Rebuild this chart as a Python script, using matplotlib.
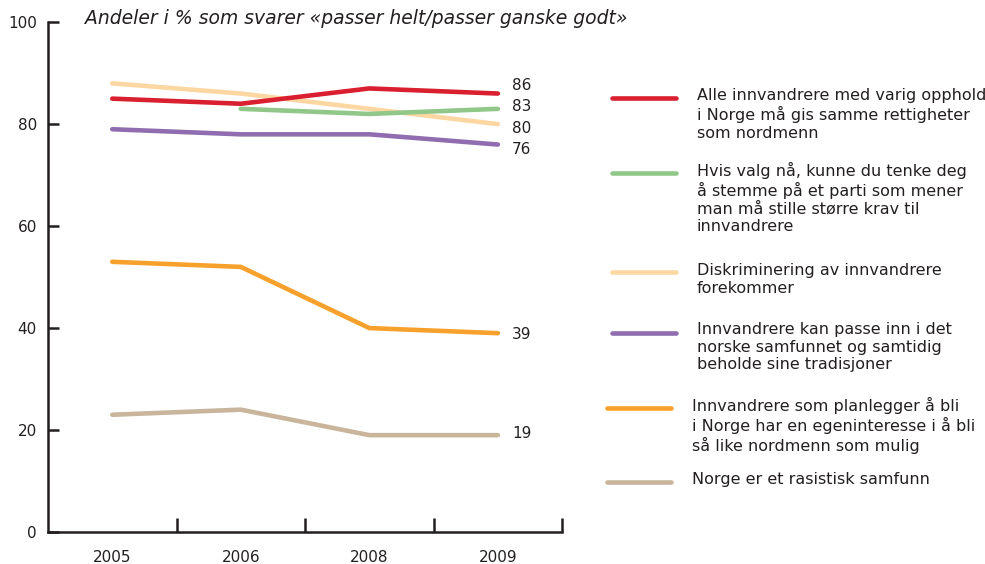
import matplotlib.pyplot as plt
import numpy as np
from matplotlib.lines import Line2D

# Data
years = ['2005', '2006', '2008', '2009']
alle_rettigheter = [85, 84, 87, 86]
stemme_parti = [np.nan, 83, 82, 83]
diskriminering = [88, 86, 83, 80]
passe_inn = [79, 78, 78, 76]
egeninteresse = [53, 52, 40, 39]
rasistisk = [23, 24, 19, 19]

labels = [
    "Alle innvandrere med varig opphold\ni Norge må gis samme rettigheter\nsom nordmenn",
    "Hvis valg nå, kunne du tenke deg\nå stemme på et parti som mener\nman må stille større krav til\ninnvandrere",
    "Diskriminering av innvandrere\nforekommer",
    "Innvandrere kan passe inn i det\nnorske samfunnet og samtidig\nbeholde sine tradisjoner",
    "Innvandrere som planlegger å bli\ni Norge har en egeninteresse i å bli\nså like nordmenn som mulig",
    "Norge er et rasistisk samfunn",
]
series = [alle_rettigheter, stemme_parti, diskriminering, passe_inn, egeninteresse, rasistisk]
colors = ['#d91f30', '#92c78a', '#fdd7a2', '#8f6db0', '#f7a12c', '#c9b59b']

# end-label nudges so the numbers don't collide
label_nudge = [1.5, 0.5, -0.8, -0.9, -0.2, 0.4]

text_col = '#231f20'
plt.rcParams['font.family'] = 'DejaVu Sans'

fig = plt.figure(figsize=(9.85, 5.64), dpi=100)
ax = fig.add_axes([0.0487, 0.0567, 0.522, 0.904])

x = np.arange(len(years))
# peach line goes underneath the others
draw_order = [2, 0, 1, 3, 4, 5]
for i in draw_order:
    ax.plot(x, series[i], color=colors[i], lw=3.3, solid_capstyle='round',
            solid_joinstyle='round', zorder=3)

for i, s in enumerate(series):
    ax.text(3.11, s[-1] + label_nudge[i], str(int(s[-1])), fontsize=11,
            color=text_col, va='center', ha='left')

ax.set_xlim(-0.5, 3.5)
ax.set_ylim(0, 100)
ax.set_yticks([0, 20, 40, 60, 80, 100])
ax.set_xticks(x)
ax.set_xticklabels(years)
ax.set_xticks([0.5, 1.5, 2.5, 3.5], minor=True)

for side in ['top', 'right']:
    ax.spines[side].set_visible(False)
for side in ['left', 'bottom']:
    ax.spines[side].set_linewidth(1.8)
    ax.spines[side].set_color(text_col)

ax.tick_params(axis='y', direction='in', length=8, width=1.8, color=text_col,
               labelsize=11, labelcolor=text_col, pad=8)
ax.tick_params(axis='x', which='major', length=0, labelsize=11,
               labelcolor=text_col, pad=13)
ax.tick_params(axis='x', which='minor', direction='in', length=10, width=1.8,
               color=text_col)

fig.text(0.086, 0.968, "Andeler i % som svarer «passer helt/passer ganske godt»",
         fontsize=13.5, style='italic', color=text_col, va='center', ha='left')

# Legend drawn by hand to the right of the axes
W, H = 985, 564
swatch_y = [98, 173, 272, 333, 408, 482]
text_top = [88, 162, 263, 322, 397, 472]
x_shift = [0, 0, 0, 0, -5, -5]
for i in range(len(labels)):
    y = 1 - swatch_y[i] / H
    x0 = (612 + x_shift[i]) / W
    x1 = (676 + x_shift[i]) / W
    fig.add_artist(Line2D([x0, x1], [y, y], color=colors[i], lw=3.3,
                          solid_capstyle='round', transform=fig.transFigure))
    fig.text((697 + x_shift[i]) / W, 1 - text_top[i] / H, labels[i],
             fontsize=11.5, color=text_col, va='top', ha='left', linespacing=1.22)

fig.savefig('out.png', dpi=100)
